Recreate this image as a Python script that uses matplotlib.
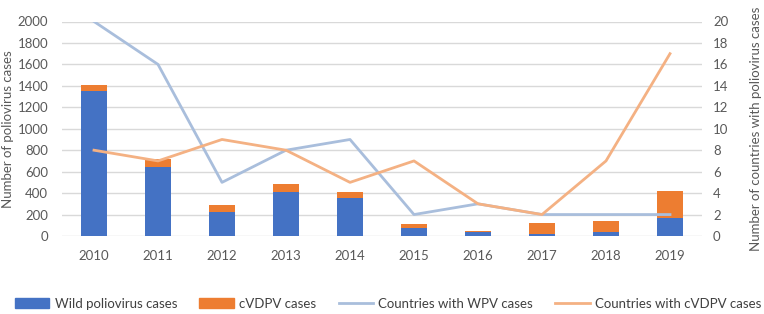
# polio cases and countries chart
import numpy as np
import matplotlib
matplotlib.use('Agg')
import matplotlib.pyplot as plt
from matplotlib.patches import Patch
from matplotlib.lines import Line2D

# data
years = ['2010', '2011', '2012', '2013', '2014', '2015', '2016', '2017', '2018', '2019']
wild_cases = [1350, 645, 222, 413, 357, 70, 38, 22, 33, 165]
cvdpv_cases = [62, 70, 70, 70, 56, 40, 4, 96, 105, 257]
countries_wpv = [20, 16, 5, 8, 9, 2, 3, 2, 2, 2]
countries_cvdpv = [8, 7, 9, 8, 5, 7, 3, 2, 7, 17]

blue = '#4472C4'
orange = '#ED7D31'
lblue = '#A9BEDC'
lorange = '#F4B183'
txt = '#595959'

plt.rcParams['font.family'] = ['Lato', 'DejaVu Sans']
plt.rcParams['font.size'] = 10

fig = plt.figure(figsize=(7.64, 3.14), dpi=100)
ax = fig.add_axes([62/764, 1-236/314, 640/764, (236-21.5)/314])
x = np.arange(len(years))

ax.bar(x, wild_cases, width=0.4, color=blue, zorder=2)
ax.bar(x, cvdpv_cases, width=0.4, bottom=wild_cases, color=orange, zorder=2)
ax.set_xlim(-0.5, len(years)-0.5)
ax.set_ylim(0, 2000)
ax.set_yticks(np.arange(0, 2001, 200))
ax.set_xticks(x)
ax.set_xticklabels(years)
ax.grid(axis='y', color='#D9D9D9', lw=1, zorder=0)
ax.set_axisbelow(True)
ax.tick_params(length=0, colors=txt, labelsize=9.5)
ax.tick_params(axis='x', pad=10)
ax.tick_params(axis='y', pad=10)
for s in ax.spines.values():
    s.set_visible(False)
ax.set_ylabel('Number of poliovirus cases', color=txt, fontsize=9.5)
ax.yaxis.set_label_coords(-0.075, 0.5)

ax2 = ax.twinx()
ax2.plot(x, countries_wpv, color=lblue, lw=2, zorder=3)
ax2.plot(x, countries_cvdpv, color=lorange, lw=2, zorder=3)
ax2.set_ylim(0, 20)
ax2.set_yticks(np.arange(0, 21, 2))
ax2.tick_params(length=0, colors=txt, labelsize=9.5, pad=8)
for s in ax2.spines.values():
    s.set_visible(False)
ax2.set_ylabel('Number of countries with poliovirus cases', color=txt, fontsize=9.5)
ax2.yaxis.set_label_coords(1.075, 0.5)

handles = [Patch(color=blue), Patch(color=orange),
           Line2D([], [], color=lblue, lw=2), Line2D([], [], color=lorange, lw=2)]
labels = ['Wild poliovirus cases', 'cVDPV cases', 'Countries with WPV cases', 'Countries with cVDPV cases']
fig.legend(handles, labels, loc='center', bbox_to_anchor=(0.508, 1-304/314), ncol=4,
           frameon=False, fontsize=9.5, labelcolor='#404040', handlelength=2.6,
           handleheight=0.8, columnspacing=1.7, handletextpad=0.4)

fig.savefig('out.png', dpi=100)
